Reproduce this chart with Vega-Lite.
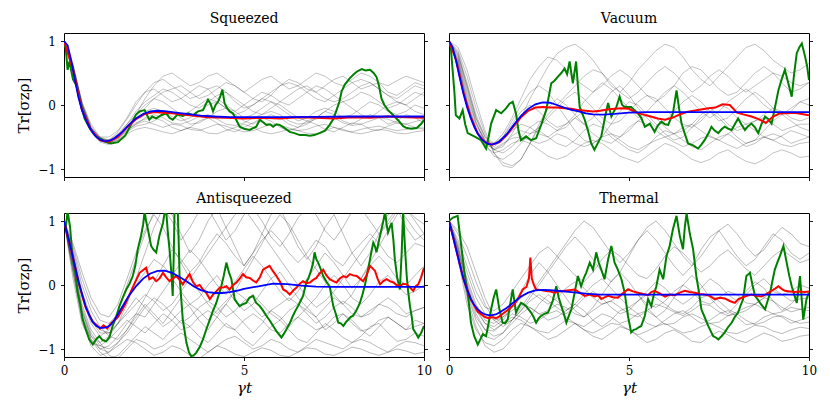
{
"$schema":"https://vega.github.io/schema/vega-lite/v6.json",
"padding":{"left":16,"top":11,"right":4,"bottom":4},
"background":"white",
"datasets":{
"gray":[
{"p":"S","id":1,"t":[0,0.25,0.5,0.75,1,1.25,1.5,1.75,2,2.25,2.5,2.75,3,3.25,3.5,3.75,4,4.25,4.5,4.75,5,5.25,5.5,5.75,6,6.25,6.5,6.75,7,7.25,7.5,7.75,8,8.25,8.5,8.75,9,9.25,9.5,9.75,10],"y":[1,0.6,0,-0.35,-0.52,-0.58,-0.5,-0.35,-0.2,-0.05,0.1,0.2,0.25,0.3,0.2,0.1,0.15,0.25,0.35,0.3,0.2,0.1,0.05,0.15,0.3,0.4,0.35,0.25,0.2,0.3,0.4,0.45,0.35,0.25,0.3,0.35,0.2,0.15,0.25,0.35,0.3]},
{"p":"S","id":2,"t":[0,0.25,0.5,0.75,1,1.25,1.5,1.75,2,2.25,2.5,2.75,3,3.25,3.5,3.75,4,4.25,4.5,4.75,5,5.25,5.5,5.75,6,6.25,6.5,6.75,7,7.25,7.5,7.75,8,8.25,8.5,8.75,9,9.25,9.5,9.75,10],"y":[1,0.55,-0.05,-0.4,-0.55,-0.6,-0.52,-0.4,-0.3,-0.25,-0.3,-0.35,-0.3,-0.32,-0.38,-0.4,-0.35,-0.3,-0.33,-0.38,-0.42,-0.4,-0.35,-0.3,-0.32,-0.36,-0.4,-0.38,-0.33,-0.3,-0.35,-0.4,-0.42,-0.38,-0.35,-0.33,-0.37,-0.4,-0.38,-0.35,-0.36]},
{"p":"S","id":3,"t":[0,0.25,0.5,0.75,1,1.25,1.5,1.75,2,2.25,2.5,2.75,3,3.25,3.5,3.75,4,4.25,4.5,4.75,5,5.25,5.5,5.75,6,6.25,6.5,6.75,7,7.25,7.5,7.75,8,8.25,8.5,8.75,9,9.25,9.5,9.75,10],"y":[1,0.65,0.05,-0.3,-0.5,-0.55,-0.45,-0.3,-0.15,0,0.1,0.05,-0.05,-0.15,-0.1,0,0.1,0.05,-0.05,-0.1,-0.2,-0.15,-0.05,0.05,0,-0.1,-0.2,-0.25,-0.2,-0.1,0,0.05,-0.05,-0.15,-0.2,-0.1,0,0.05,0,-0.1,-0.15]},
{"p":"S","id":4,"t":[0,0.25,0.5,0.75,1,1.25,1.5,1.75,2,2.25,2.5,2.75,3,3.25,3.5,3.75,4,4.25,4.5,4.75,5,5.25,5.5,5.75,6,6.25,6.5,6.75,7,7.25,7.5,7.75,8,8.25,8.5,8.75,9,9.25,9.5,9.75,10],"y":[1,0.5,-0.1,-0.42,-0.58,-0.62,-0.55,-0.42,-0.33,-0.3,-0.25,-0.15,-0.1,-0.2,-0.3,-0.28,-0.2,-0.1,-0.05,-0.15,-0.25,-0.3,-0.22,-0.15,-0.2,-0.3,-0.35,-0.3,-0.2,-0.1,-0.15,-0.25,-0.3,-0.22,-0.15,-0.2,-0.3,-0.25,-0.15,-0.2,-0.28]},
{"p":"S","id":5,"t":[0,0.25,0.5,0.75,1,1.25,1.5,1.75,2,2.25,2.5,2.75,3,3.25,3.5,3.75,4,4.25,4.5,4.75,5,5.25,5.5,5.75,6,6.25,6.5,6.75,7,7.25,7.5,7.75,8,8.25,8.5,8.75,9,9.25,9.5,9.75,10],"y":[1,0.6,0.02,-0.36,-0.5,-0.5,-0.4,-0.2,0.05,0.2,0.25,0.15,0.05,0.1,0.2,0.3,0.25,0.1,0,-0.1,0,0.1,0.2,0.15,0.05,0,0.1,0.2,0.3,0.25,0.15,0.05,0.1,0.2,0.15,0.05,-0.05,0,0.1,0.2,0.15]},
{"p":"S","id":6,"t":[0,0.25,0.5,0.75,1,1.25,1.5,1.75,2,2.25,2.5,2.75,3,3.25,3.5,3.75,4,4.25,4.5,4.75,5,5.25,5.5,5.75,6,6.25,6.5,6.75,7,7.25,7.5,7.75,8,8.25,8.5,8.75,9,9.25,9.5,9.75,10],"y":[1,0.58,-0.02,-0.38,-0.55,-0.58,-0.5,-0.38,-0.28,-0.22,-0.2,-0.25,-0.35,-0.4,-0.35,-0.25,-0.2,-0.28,-0.38,-0.42,-0.35,-0.28,-0.2,-0.25,-0.35,-0.4,-0.35,-0.25,-0.3,-0.38,-0.42,-0.35,-0.28,-0.3,-0.38,-0.4,-0.33,-0.28,-0.3,-0.35,-0.38]},
{"p":"S","id":7,"t":[0,0.25,0.5,0.75,1,1.25,1.5,1.75,2,2.25,2.5,2.75,3,3.25,3.5,3.75,4,4.25,4.5,4.75,5,5.25,5.5,5.75,6,6.25,6.5,6.75,7,7.25,7.5,7.75,8,8.25,8.5,8.75,9,9.25,9.5,9.75,10],"y":[1,0.62,0.03,-0.33,-0.52,-0.55,-0.48,-0.34,-0.15,0.1,0.3,0.45,0.5,0.4,0.3,0.35,0.45,0.5,0.4,0.3,0.2,0.3,0.4,0.45,0.35,0.25,0.3,0.4,0.5,0.45,0.35,0.3,0.4,0.5,0.45,0.35,0.3,0.38,0.45,0.4,0.35]},
{"p":"S","id":8,"t":[0,0.25,0.5,0.75,1,1.25,1.5,1.75,2,2.25,2.5,2.75,3,3.25,3.5,3.75,4,4.25,4.5,4.75,5,5.25,5.5,5.75,6,6.25,6.5,6.75,7,7.25,7.5,7.75,8,8.25,8.5,8.75,9,9.25,9.5,9.75,10],"y":[1,0.55,-0.06,-0.4,-0.56,-0.6,-0.5,-0.35,-0.22,-0.1,-0.05,-0.1,-0.18,-0.25,-0.2,-0.1,0,0.05,-0.05,-0.15,-0.1,0,0.1,0.05,-0.05,-0.15,-0.25,-0.2,-0.1,-0.05,-0.1,-0.2,-0.15,-0.05,0.05,0,-0.1,-0.15,-0.1,0,-0.05]},
{"p":"S","id":9,"t":[0,0.25,0.5,0.75,1,1.25,1.5,1.75,2,2.25,2.5,2.75,3,3.25,3.5,3.75,4,4.25,4.5,4.75,5,5.25,5.5,5.75,6,6.25,6.5,6.75,7,7.25,7.5,7.75,8,8.25,8.5,8.75,9,9.25,9.5,9.75,10],"y":[1,0.6,0,-0.37,-0.54,-0.57,-0.47,-0.3,-0.1,0.05,0.15,0.25,0.2,0.1,0,-0.05,0.05,0.15,0.2,0.1,0,-0.1,-0.15,-0.05,0.05,0.15,0.25,0.3,0.2,0.1,0.05,0.1,0.2,0.3,0.35,0.25,0.15,0.05,0,0.1,0.2]},
{"p":"S","id":10,"t":[0,0.25,0.5,0.75,1,1.25,1.5,1.75,2,2.25,2.5,2.75,3,3.25,3.5,3.75,4,4.25,4.5,4.75,5,5.25,5.5,5.75,6,6.25,6.5,6.75,7,7.25,7.5,7.75,8,8.25,8.5,8.75,9,9.25,9.5,9.75,10],"y":[1,0.57,-0.04,-0.39,-0.56,-0.6,-0.55,-0.45,-0.38,-0.35,-0.38,-0.42,-0.45,-0.4,-0.35,-0.38,-0.44,-0.45,-0.4,-0.35,-0.3,-0.35,-0.42,-0.45,-0.42,-0.38,-0.4,-0.44,-0.45,-0.4,-0.35,-0.38,-0.43,-0.45,-0.42,-0.38,-0.4,-0.44,-0.45,-0.42,-0.4]},
{"p":"S","id":11,"t":[0,0.25,0.5,0.75,1,1.25,1.5,1.75,2,2.25,2.5,2.75,3,3.25,3.5,3.75,4,4.25,4.5,4.75,5,5.25,5.5,5.75,6,6.25,6.5,6.75,7,7.25,7.5,7.75,8,8.25,8.5,8.75,9,9.25,9.5,9.75,10],"y":[1,0.6,0,-0.36,-0.53,-0.55,-0.42,-0.22,0,0.2,0.35,0.4,0.3,0.2,0.1,0.15,0.25,0.3,0.2,0.05,-0.05,0,0.1,0.2,0.3,0.35,0.3,0.2,0.1,0.05,0.15,0.25,0.35,0.4,0.35,0.25,0.15,0.1,0.2,0.3,0.25]},
{"p":"S","id":12,"t":[0,0.25,0.5,0.75,1,1.25,1.5,1.75,2,2.25,2.5,2.75,3,3.25,3.5,3.75,4,4.25,4.5,4.75,5,5.25,5.5,5.75,6,6.25,6.5,6.75,7,7.25,7.5,7.75,8,8.25,8.5,8.75,9,9.25,9.5,9.75,10],"y":[1,0.56,-0.05,-0.4,-0.56,-0.6,-0.53,-0.4,-0.3,-0.2,-0.15,-0.2,-0.28,-0.3,-0.25,-0.18,-0.15,-0.22,-0.3,-0.32,-0.28,-0.2,-0.15,-0.1,-0.15,-0.25,-0.3,-0.28,-0.22,-0.18,-0.2,-0.28,-0.32,-0.3,-0.25,-0.2,-0.22,-0.28,-0.3,-0.26,-0.22]},
{"p":"V","id":1,"t":[0,0.25,0.5,0.75,1,1.25,1.5,1.75,2,2.25,2.5,2.75,3,3.25,3.5,3.75,4,4.25,4.5,4.75,5,5.25,5.5,5.75,6,6.25,6.5,6.75,7,7.25,7.5,7.75,8,8.25,8.5,8.75,9,9.25,9.5,9.75,10],"y":[1,0.8,0.3,-0.2,-0.55,-0.7,-0.65,-0.45,-0.2,0.1,0.35,0.6,0.8,0.9,0.95,0.85,0.7,0.5,0.3,0.2,0.35,0.55,0.7,0.85,0.95,0.9,0.75,0.55,0.4,0.3,0.45,0.6,0.75,0.9,0.95,0.85,0.7,0.6,0.5,0.55,0.65]},
{"p":"V","id":2,"t":[0,0.25,0.5,0.75,1,1.25,1.5,1.75,2,2.25,2.5,2.75,3,3.25,3.5,3.75,4,4.25,4.5,4.75,5,5.25,5.5,5.75,6,6.25,6.5,6.75,7,7.25,7.5,7.75,8,8.25,8.5,8.75,9,9.25,9.5,9.75,10],"y":[1,0.65,0.1,-0.35,-0.6,-0.65,-0.55,-0.4,-0.3,-0.35,-0.45,-0.5,-0.4,-0.3,-0.2,-0.3,-0.45,-0.55,-0.6,-0.5,-0.35,-0.25,-0.3,-0.4,-0.5,-0.45,-0.35,-0.3,-0.4,-0.5,-0.55,-0.45,-0.35,-0.3,-0.4,-0.5,-0.55,-0.48,-0.4,-0.45,-0.5]},
{"p":"V","id":3,"t":[0,0.25,0.5,0.75,1,1.25,1.5,1.75,2,2.25,2.5,2.75,3,3.25,3.5,3.75,4,4.25,4.5,4.75,5,5.25,5.5,5.75,6,6.25,6.5,6.75,7,7.25,7.5,7.75,8,8.25,8.5,8.75,9,9.25,9.5,9.75,10],"y":[1,0.85,0.45,-0.05,-0.45,-0.75,-0.9,-0.95,-0.85,-0.6,-0.3,-0.05,0.1,0,-0.15,-0.3,-0.2,0,0.2,0.3,0.15,-0.05,-0.2,-0.35,-0.25,-0.1,0.05,0.15,0.05,-0.1,-0.25,-0.2,-0.05,0.1,0.2,0.1,-0.05,-0.15,-0.1,0.05,0.1]},
{"p":"V","id":4,"t":[0,0.25,0.5,0.75,1,1.25,1.5,1.75,2,2.25,2.5,2.75,3,3.25,3.5,3.75,4,4.25,4.5,4.75,5,5.25,5.5,5.75,6,6.25,6.5,6.75,7,7.25,7.5,7.75,8,8.25,8.5,8.75,9,9.25,9.5,9.75,10],"y":[1,0.6,0,-0.4,-0.6,-0.62,-0.5,-0.25,0,0.2,0.3,0.2,0,-0.2,-0.4,-0.55,-0.6,-0.5,-0.3,-0.1,0.05,0,-0.15,-0.3,-0.45,-0.55,-0.5,-0.35,-0.2,-0.1,-0.2,-0.35,-0.5,-0.6,-0.55,-0.4,-0.25,-0.15,-0.25,-0.35,-0.4]},
{"p":"V","id":5,"t":[0,0.25,0.5,0.75,1,1.25,1.5,1.75,2,2.25,2.5,2.75,3,3.25,3.5,3.75,4,4.25,4.5,4.75,5,5.25,5.5,5.75,6,6.25,6.5,6.75,7,7.25,7.5,7.75,8,8.25,8.5,8.75,9,9.25,9.5,9.75,10],"y":[1,0.75,0.25,-0.25,-0.6,-0.8,-0.85,-0.75,-0.6,-0.45,-0.4,-0.5,-0.6,-0.65,-0.55,-0.4,-0.3,-0.35,-0.5,-0.6,-0.7,-0.75,-0.65,-0.5,-0.4,-0.45,-0.55,-0.65,-0.7,-0.6,-0.5,-0.45,-0.55,-0.65,-0.6,-0.5,-0.45,-0.5,-0.6,-0.55,-0.5]},
{"p":"V","id":6,"t":[0,0.25,0.5,0.75,1,1.25,1.5,1.75,2,2.25,2.5,2.75,3,3.25,3.5,3.75,4,4.25,4.5,4.75,5,5.25,5.5,5.75,6,6.25,6.5,6.75,7,7.25,7.5,7.75,8,8.25,8.5,8.75,9,9.25,9.5,9.75,10],"y":[1,0.7,0.15,-0.3,-0.55,-0.6,-0.45,-0.2,0.1,0.4,0.6,0.75,0.7,0.55,0.4,0.3,0.2,0.3,0.45,0.55,0.45,0.3,0.15,0.05,0.15,0.3,0.5,0.6,0.55,0.4,0.25,0.15,0.2,0.35,0.5,0.6,0.5,0.35,0.2,0.25,0.35]},
{"p":"V","id":7,"t":[0,0.25,0.5,0.75,1,1.25,1.5,1.75,2,2.25,2.5,2.75,3,3.25,3.5,3.75,4,4.25,4.5,4.75,5,5.25,5.5,5.75,6,6.25,6.5,6.75,7,7.25,7.5,7.75,8,8.25,8.5,8.75,9,9.25,9.5,9.75,10],"y":[1,0.82,0.35,-0.15,-0.5,-0.7,-0.75,-0.65,-0.5,-0.35,-0.25,-0.3,-0.4,-0.35,-0.2,-0.1,-0.15,-0.3,-0.45,-0.5,-0.4,-0.25,-0.15,-0.2,-0.35,-0.45,-0.4,-0.3,-0.15,-0.05,-0.15,-0.3,-0.4,-0.35,-0.25,-0.2,-0.3,-0.4,-0.35,-0.3,-0.3]},
{"p":"V","id":8,"t":[0,0.25,0.5,0.75,1,1.25,1.5,1.75,2,2.25,2.5,2.75,3,3.25,3.5,3.75,4,4.25,4.5,4.75,5,5.25,5.5,5.75,6,6.25,6.5,6.75,7,7.25,7.5,7.75,8,8.25,8.5,8.75,9,9.25,9.5,9.75,10],"y":[1,0.68,0.05,-0.4,-0.65,-0.75,-0.7,-0.6,-0.55,-0.6,-0.7,-0.8,-0.85,-0.8,-0.7,-0.6,-0.55,-0.6,-0.7,-0.8,-0.85,-0.9,-0.8,-0.7,-0.6,-0.65,-0.75,-0.85,-0.9,-0.85,-0.75,-0.7,-0.8,-0.88,-0.92,-0.85,-0.75,-0.7,-0.75,-0.82,-0.8]},
{"p":"V","id":9,"t":[0,0.25,0.5,0.75,1,1.25,1.5,1.75,2,2.25,2.5,2.75,3,3.25,3.5,3.75,4,4.25,4.5,4.75,5,5.25,5.5,5.75,6,6.25,6.5,6.75,7,7.25,7.5,7.75,8,8.25,8.5,8.75,9,9.25,9.5,9.75,10],"y":[1,0.78,0.3,-0.2,-0.5,-0.6,-0.5,-0.3,-0.1,0,-0.1,-0.25,-0.35,-0.3,-0.15,0.05,0.2,0.35,0.25,0.1,-0.05,-0.2,-0.1,0.05,0.2,0.3,0.2,0.05,-0.1,-0.2,-0.1,0.05,0.15,0.25,0.15,0,-0.1,-0.15,-0.05,0.05,0]},
{"p":"V","id":10,"t":[0,0.25,0.5,0.75,1,1.25,1.5,1.75,2,2.25,2.5,2.75,3,3.25,3.5,3.75,4,4.25,4.5,4.75,5,5.25,5.5,5.75,6,6.25,6.5,6.75,7,7.25,7.5,7.75,8,8.25,8.5,8.75,9,9.25,9.5,9.75,10],"y":[1,0.72,0.2,-0.28,-0.58,-0.7,-0.62,-0.48,-0.4,-0.45,-0.35,-0.2,-0.05,0.1,0.2,0.1,-0.05,-0.2,-0.3,-0.25,-0.1,0.05,0.15,0.1,-0.05,-0.2,-0.3,-0.35,-0.25,-0.1,0,-0.05,-0.2,-0.3,-0.25,-0.15,-0.05,-0.1,-0.2,-0.25,-0.2]},
{"p":"V","id":11,"t":[0,0.25,0.5,0.75,1,1.25,1.5,1.75,2,2.25,2.5,2.75,3,3.25,3.5,3.75,4,4.25,4.5,4.75,5,5.25,5.5,5.75,6,6.25,6.5,6.75,7,7.25,7.5,7.75,8,8.25,8.5,8.75,9,9.25,9.5,9.75,10],"y":[1,0.9,0.55,0.05,-0.4,-0.75,-0.95,-0.98,-0.85,-0.6,-0.35,-0.15,0,0.15,0.3,0.45,0.55,0.5,0.35,0.2,0.1,0.2,0.35,0.5,0.6,0.5,0.35,0.2,0.3,0.45,0.55,0.45,0.3,0.2,0.3,0.4,0.5,0.45,0.35,0.3,0.35]},
{"p":"V","id":12,"t":[0,0.25,0.5,0.75,1,1.25,1.5,1.75,2,2.25,2.5,2.75,3,3.25,3.5,3.75,4,4.25,4.5,4.75,5,5.25,5.5,5.75,6,6.25,6.5,6.75,7,7.25,7.5,7.75,8,8.25,8.5,8.75,9,9.25,9.5,9.75,10],"y":[1,0.62,0.05,-0.38,-0.62,-0.68,-0.6,-0.52,-0.5,-0.55,-0.6,-0.55,-0.45,-0.5,-0.6,-0.65,-0.6,-0.5,-0.45,-0.55,-0.65,-0.7,-0.62,-0.55,-0.5,-0.58,-0.65,-0.6,-0.52,-0.48,-0.55,-0.62,-0.68,-0.6,-0.55,-0.5,-0.55,-0.62,-0.65,-0.6,-0.58]},
{"p":"A","id":1,"t":[0,0.25,0.5,0.75,1,1.25,1.5,1.75,2,2.25,2.5,2.75,3,3.25,3.5,3.75,4,4.25,4.5,4.75,5,5.25,5.5,5.75,6,6.25,6.5,6.75,7,7.25,7.5,7.75,8,8.25,8.5,8.75,9,9.25,9.5,9.75,10],"y":[1,0.3,-0.4,-0.8,-1,-1.05,-0.9,-0.7,-0.5,-0.3,-0.45,-0.6,-0.4,-0.2,-0.35,-0.55,-0.7,-0.5,-0.3,-0.45,-0.6,-0.75,-0.6,-0.4,-0.5,-0.65,-0.5,-0.35,-0.5,-0.7,-0.6,-0.45,-0.55,-0.7,-0.8,-0.65,-0.5,-0.6,-0.7,-0.55,-0.6]},
{"p":"A","id":2,"t":[0,0.25,0.5,0.75,1,1.25,1.5,1.75,2,2.25,2.5,2.75,3,3.25,3.5,3.75,4,4.25,4.5,4.75,5,5.25,5.5,5.75,6,6.25,6.5,6.75,7,7.25,7.5,7.75,8,8.25,8.5,8.75,9,9.25,9.5,9.75,10],"y":[1,0.5,-0.1,-0.5,-0.7,-0.75,-0.6,-0.3,0.1,0.5,0.9,1.2,1.1,0.8,0.5,0.7,1,1.2,0.9,0.6,0.3,0.5,0.8,1.1,1.2,0.9,0.6,0.4,0.6,0.9,1.1,0.8,0.5,0.3,0.5,0.8,1,1.2,0.9,0.7,0.8]},
{"p":"A","id":3,"t":[0,0.25,0.5,0.75,1,1.25,1.5,1.75,2,2.25,2.5,2.75,3,3.25,3.5,3.75,4,4.25,4.5,4.75,5,5.25,5.5,5.75,6,6.25,6.5,6.75,7,7.25,7.5,7.75,8,8.25,8.5,8.75,9,9.25,9.5,9.75,10],"y":[1,0.2,-0.5,-0.85,-1,-0.95,-0.8,-0.6,-0.45,-0.5,-0.3,-0.1,0.1,-0.1,-0.3,-0.2,0,0.15,-0.05,-0.25,-0.4,-0.3,-0.1,0.1,0.2,0,-0.2,-0.35,-0.2,0,0.15,0,-0.2,-0.3,-0.15,0.05,0.15,0,-0.15,-0.1,0]},
{"p":"A","id":4,"t":[0,0.25,0.5,0.75,1,1.25,1.5,1.75,2,2.25,2.5,2.75,3,3.25,3.5,3.75,4,4.25,4.5,4.75,5,5.25,5.5,5.75,6,6.25,6.5,6.75,7,7.25,7.5,7.75,8,8.25,8.5,8.75,9,9.25,9.5,9.75,10],"y":[1,0.4,-0.3,-0.7,-0.9,-1.1,-1.15,-1,-0.85,-0.9,-1,-0.95,-0.85,-0.75,-0.85,-0.95,-1.05,-0.95,-0.85,-0.8,-0.9,-1,-0.95,-0.85,-0.9,-1,-1.05,-0.95,-0.85,-0.9,-0.95,-1,-0.9,-0.85,-0.9,-0.98,-1.05,-0.95,-0.88,-0.9,-0.95]},
{"p":"A","id":5,"t":[0,0.25,0.5,0.75,1,1.25,1.5,1.75,2,2.25,2.5,2.75,3,3.25,3.5,3.75,4,4.25,4.5,4.75,5,5.25,5.5,5.75,6,6.25,6.5,6.75,7,7.25,7.5,7.75,8,8.25,8.5,8.75,9,9.25,9.5,9.75,10],"y":[1,0.6,0.1,-0.3,-0.55,-0.6,-0.45,-0.2,0,0.2,0.4,0.3,0.15,0.35,0.55,0.4,0.2,0,-0.15,0.05,0.25,0.45,0.3,0.1,-0.1,-0.25,-0.1,0.1,0.3,0.5,0.35,0.15,-0.05,0.1,0.3,0.45,0.3,0.1,0,0.15,0.3]},
{"p":"A","id":6,"t":[0,0.25,0.5,0.75,1,1.25,1.5,1.75,2,2.25,2.5,2.75,3,3.25,3.5,3.75,4,4.25,4.5,4.75,5,5.25,5.5,5.75,6,6.25,6.5,6.75,7,7.25,7.5,7.75,8,8.25,8.5,8.75,9,9.25,9.5,9.75,10],"y":[1,0.1,-0.6,-0.9,-0.95,-0.85,-0.7,-0.55,-0.65,-0.75,-0.6,-0.45,-0.55,-0.7,-0.65,-0.5,-0.4,-0.5,-0.65,-0.7,-0.55,-0.45,-0.55,-0.7,-0.75,-0.6,-0.5,-0.6,-0.7,-0.65,-0.5,-0.45,-0.6,-0.72,-0.68,-0.55,-0.5,-0.6,-0.7,-0.65,-0.6]},
{"p":"A","id":7,"t":[0,0.25,0.5,0.75,1,1.25,1.5,1.75,2,2.25,2.5,2.75,3,3.25,3.5,3.75,4,4.25,4.5,4.75,5,5.25,5.5,5.75,6,6.25,6.5,6.75,7,7.25,7.5,7.75,8,8.25,8.5,8.75,9,9.25,9.5,9.75,10],"y":[1,0.45,-0.2,-0.6,-0.8,-0.7,-0.4,0,0.4,0.8,1.15,1.2,1,0.7,0.9,1.15,1.2,0.95,0.7,0.85,1.1,1.2,1,0.75,0.6,0.8,1.05,1.2,1.1,0.85,0.7,0.9,1.15,1.2,1,0.8,0.95,1.15,1.2,1.05,0.95]},
{"p":"A","id":8,"t":[0,0.25,0.5,0.75,1,1.25,1.5,1.75,2,2.25,2.5,2.75,3,3.25,3.5,3.75,4,4.25,4.5,4.75,5,5.25,5.5,5.75,6,6.25,6.5,6.75,7,7.25,7.5,7.75,8,8.25,8.5,8.75,9,9.25,9.5,9.75,10],"y":[1,0.35,-0.35,-0.75,-0.95,-1,-0.9,-0.75,-0.55,-0.35,-0.2,-0.3,-0.45,-0.6,-0.5,-0.35,-0.25,-0.35,-0.5,-0.4,-0.25,-0.15,-0.3,-0.45,-0.55,-0.4,-0.3,-0.4,-0.5,-0.35,-0.2,-0.3,-0.45,-0.5,-0.4,-0.3,-0.35,-0.45,-0.5,-0.4,-0.35]},
{"p":"A","id":9,"t":[0,0.25,0.5,0.75,1,1.25,1.5,1.75,2,2.25,2.5,2.75,3,3.25,3.5,3.75,4,4.25,4.5,4.75,5,5.25,5.5,5.75,6,6.25,6.5,6.75,7,7.25,7.5,7.75,8,8.25,8.5,8.75,9,9.25,9.5,9.75,10],"y":[1,0.55,0,-0.4,-0.65,-0.8,-0.85,-0.7,-0.45,-0.2,0.05,0.3,0.55,0.4,0.2,0.35,0.6,0.8,0.65,0.45,0.3,0.5,0.7,0.85,0.7,0.5,0.35,0.5,0.7,0.6,0.4,0.3,0.5,0.65,0.8,0.65,0.45,0.35,0.5,0.65,0.6]},
{"p":"A","id":10,"t":[0,0.25,0.5,0.75,1,1.25,1.5,1.75,2,2.25,2.5,2.75,3,3.25,3.5,3.75,4,4.25,4.5,4.75,5,5.25,5.5,5.75,6,6.25,6.5,6.75,7,7.25,7.5,7.75,8,8.25,8.5,8.75,9,9.25,9.5,9.75,10],"y":[1,0.25,-0.45,-0.85,-1.05,-1.15,-1.1,-0.95,-0.8,-0.65,-0.75,-0.85,-0.7,-0.55,-0.65,-0.8,-0.9,-0.75,-0.6,-0.7,-0.85,-0.95,-0.8,-0.65,-0.55,-0.7,-0.85,-0.9,-0.75,-0.6,-0.7,-0.82,-0.9,-0.8,-0.65,-0.6,-0.75,-0.88,-0.85,-0.75,-0.8]},
{"p":"A","id":11,"t":[0,0.25,0.5,0.75,1,1.25,1.5,1.75,2,2.25,2.5,2.75,3,3.25,3.5,3.75,4,4.25,4.5,4.75,5,5.25,5.5,5.75,6,6.25,6.5,6.75,7,7.25,7.5,7.75,8,8.25,8.5,8.75,9,9.25,9.5,9.75,10],"y":[1,0.5,-0.15,-0.55,-0.75,-0.75,-0.6,-0.45,-0.3,-0.15,-0.25,-0.4,-0.3,-0.1,0.1,0.3,0.5,0.7,0.9,1.1,1.2,1,0.8,0.6,0.4,0.2,0,-0.2,-0.35,-0.25,-0.1,0.1,0.3,0.5,0.7,0.9,1.1,1.2,1.05,0.85,0.7]},
{"p":"A","id":12,"t":[0,0.25,0.5,0.75,1,1.25,1.5,1.75,2,2.25,2.5,2.75,3,3.25,3.5,3.75,4,4.25,4.5,4.75,5,5.25,5.5,5.75,6,6.25,6.5,6.75,7,7.25,7.5,7.75,8,8.25,8.5,8.75,9,9.25,9.5,9.75,10],"y":[1,0.3,-0.4,-0.8,-0.9,-0.8,-0.6,-0.4,-0.2,-0.35,-0.5,-0.65,-0.55,-0.4,-0.3,-0.4,-0.55,-0.4,-0.25,-0.1,-0.2,-0.35,-0.5,-0.4,-0.3,-0.2,-0.3,-0.45,-0.6,-0.5,-0.35,-0.25,-0.35,-0.5,-0.45,-0.3,-0.2,-0.3,-0.45,-0.4,-0.35]},
{"p":"A","id":13,"t":[0,0.25,0.5,0.75,1,1.25,1.5,1.75,2,2.25,2.5,2.75,3,3.25,3.5,3.75,4,4.25,4.5,4.75,5,5.25,5.5,5.75,6,6.25,6.5,6.75,7,7.25,7.5,7.75,8,8.25,8.5,8.75,9,9.25,9.5,9.75,10],"y":[1,0.65,0.2,-0.2,-0.45,-0.5,-0.3,0.1,0.5,0.85,1.1,0.9,0.6,0.35,0.1,-0.1,-0.3,-0.45,-0.3,-0.1,0.15,0.4,0.65,0.9,1.1,0.95,0.7,0.45,0.25,0.05,-0.15,-0.3,-0.15,0.1,0.35,0.6,0.85,1.1,1.2,1,0.8]},
{"p":"A","id":14,"t":[0,0.25,0.5,0.75,1,1.25,1.5,1.75,2,2.25,2.5,2.75,3,3.25,3.5,3.75,4,4.25,4.5,4.75,5,5.25,5.5,5.75,6,6.25,6.5,6.75,7,7.25,7.5,7.75,8,8.25,8.5,8.75,9,9.25,9.5,9.75,10],"y":[1,0.2,-0.55,-0.95,-1.1,-1.05,-0.95,-0.85,-0.9,-1,-1.1,-1.05,-0.95,-1,-1.1,-1.15,-1.05,-0.95,-1,-1.08,-1.12,-1.05,-0.98,-1.02,-1.1,-1.12,-1.05,-0.98,-1,-1.08,-1.1,-1.04,-0.97,-1,-1.06,-1.1,-1.05,-1,-1.03,-1.08,-1.05]},
{"p":"T","id":1,"t":[0,0.25,0.5,0.75,1,1.25,1.5,1.75,2,2.25,2.5,2.75,3,3.25,3.5,3.75,4,4.25,4.5,4.75,5,5.25,5.5,5.75,6,6.25,6.5,6.75,7,7.25,7.5,7.75,8,8.25,8.5,8.75,9,9.25,9.5,9.75,10],"y":[1,0.55,0,-0.45,-0.7,-0.8,-0.75,-0.6,-0.45,-0.35,-0.45,-0.55,-0.5,-0.4,-0.3,-0.4,-0.55,-0.65,-0.55,-0.4,-0.35,-0.45,-0.6,-0.65,-0.55,-0.45,-0.4,-0.5,-0.6,-0.55,-0.45,-0.4,-0.5,-0.62,-0.6,-0.5,-0.45,-0.5,-0.6,-0.55,-0.5]},
{"p":"T","id":2,"t":[0,0.25,0.5,0.75,1,1.25,1.5,1.75,2,2.25,2.5,2.75,3,3.25,3.5,3.75,4,4.25,4.5,4.75,5,5.25,5.5,5.75,6,6.25,6.5,6.75,7,7.25,7.5,7.75,8,8.25,8.5,8.75,9,9.25,9.5,9.75,10],"y":[1,0.7,0.3,-0.1,-0.35,-0.4,-0.3,-0.1,0.1,0.3,0.5,0.6,0.45,0.3,0.15,0.05,0.2,0.4,0.55,0.45,0.3,0.15,0.1,0.25,0.45,0.6,0.5,0.35,0.2,0.3,0.45,0.55,0.4,0.25,0.15,0.3,0.45,0.55,0.45,0.35,0.4]},
{"p":"T","id":3,"t":[0,0.25,0.5,0.75,1,1.25,1.5,1.75,2,2.25,2.5,2.75,3,3.25,3.5,3.75,4,4.25,4.5,4.75,5,5.25,5.5,5.75,6,6.25,6.5,6.75,7,7.25,7.5,7.75,8,8.25,8.5,8.75,9,9.25,9.5,9.75,10],"y":[1,0.4,-0.3,-0.7,-0.9,-0.95,-0.85,-0.7,-0.6,-0.65,-0.75,-0.85,-0.8,-0.7,-0.6,-0.7,-0.8,-0.85,-0.75,-0.65,-0.7,-0.8,-0.9,-0.85,-0.75,-0.7,-0.78,-0.88,-0.9,-0.8,-0.72,-0.78,-0.86,-0.9,-0.82,-0.75,-0.8,-0.88,-0.85,-0.8,-0.78]},
{"p":"T","id":4,"t":[0,0.25,0.5,0.75,1,1.25,1.5,1.75,2,2.25,2.5,2.75,3,3.25,3.5,3.75,4,4.25,4.5,4.75,5,5.25,5.5,5.75,6,6.25,6.5,6.75,7,7.25,7.5,7.75,8,8.25,8.5,8.75,9,9.25,9.5,9.75,10],"y":[1,0.6,0.1,-0.3,-0.55,-0.6,-0.5,-0.35,-0.2,-0.1,-0.2,-0.3,-0.2,-0.05,0.05,-0.05,-0.2,-0.3,-0.25,-0.15,-0.05,-0.15,-0.3,-0.35,-0.25,-0.1,0,-0.1,-0.25,-0.3,-0.2,-0.1,-0.15,-0.28,-0.3,-0.2,-0.1,-0.15,-0.25,-0.22,-0.2]},
{"p":"T","id":5,"t":[0,0.25,0.5,0.75,1,1.25,1.5,1.75,2,2.25,2.5,2.75,3,3.25,3.5,3.75,4,4.25,4.5,4.75,5,5.25,5.5,5.75,6,6.25,6.5,6.75,7,7.25,7.5,7.75,8,8.25,8.5,8.75,9,9.25,9.5,9.75,10],"y":[1,0.85,0.6,0.2,-0.2,-0.5,-0.6,-0.55,-0.4,-0.2,0,0.2,0.4,0.6,0.75,0.6,0.4,0.2,0.05,0.2,0.45,0.7,0.85,0.7,0.5,0.3,0.15,0.3,0.55,0.75,0.85,0.65,0.45,0.3,0.4,0.6,0.8,0.7,0.5,0.4,0.5]},
{"p":"T","id":6,"t":[0,0.25,0.5,0.75,1,1.25,1.5,1.75,2,2.25,2.5,2.75,3,3.25,3.5,3.75,4,4.25,4.5,4.75,5,5.25,5.5,5.75,6,6.25,6.5,6.75,7,7.25,7.5,7.75,8,8.25,8.5,8.75,9,9.25,9.5,9.75,10],"y":[1,0.5,-0.1,-0.5,-0.7,-0.72,-0.6,-0.45,-0.5,-0.6,-0.55,-0.45,-0.4,-0.5,-0.6,-0.65,-0.55,-0.45,-0.5,-0.6,-0.55,-0.45,-0.4,-0.5,-0.62,-0.6,-0.5,-0.45,-0.52,-0.6,-0.58,-0.48,-0.45,-0.55,-0.62,-0.58,-0.5,-0.48,-0.55,-0.6,-0.58]},
{"p":"T","id":7,"t":[0,0.25,0.5,0.75,1,1.25,1.5,1.75,2,2.25,2.5,2.75,3,3.25,3.5,3.75,4,4.25,4.5,4.75,5,5.25,5.5,5.75,6,6.25,6.5,6.75,7,7.25,7.5,7.75,8,8.25,8.5,8.75,9,9.25,9.5,9.75,10],"y":[1,0.45,-0.2,-0.65,-0.95,-1.05,-1,-0.85,-0.7,-0.5,-0.3,-0.15,-0.25,-0.4,-0.3,-0.15,0,0.1,-0.05,-0.2,-0.35,-0.25,-0.1,0.05,-0.05,-0.2,-0.3,-0.2,-0.05,0.1,0,-0.15,-0.25,-0.15,0,0.1,-0.05,-0.15,-0.1,0,-0.05]},
{"p":"T","id":8,"t":[0,0.25,0.5,0.75,1,1.25,1.5,1.75,2,2.25,2.5,2.75,3,3.25,3.5,3.75,4,4.25,4.5,4.75,5,5.25,5.5,5.75,6,6.25,6.5,6.75,7,7.25,7.5,7.75,8,8.25,8.5,8.75,9,9.25,9.5,9.75,10],"y":[1,0.65,0.2,-0.2,-0.45,-0.55,-0.5,-0.4,-0.3,-0.35,-0.45,-0.4,-0.3,-0.35,-0.45,-0.5,-0.4,-0.3,-0.25,-0.35,-0.45,-0.5,-0.4,-0.3,-0.35,-0.42,-0.48,-0.4,-0.3,-0.32,-0.42,-0.48,-0.42,-0.35,-0.3,-0.38,-0.45,-0.42,-0.35,-0.38,-0.4]},
{"p":"T","id":9,"t":[0,0.25,0.5,0.75,1,1.25,1.5,1.75,2,2.25,2.5,2.75,3,3.25,3.5,3.75,4,4.25,4.5,4.75,5,5.25,5.5,5.75,6,6.25,6.5,6.75,7,7.25,7.5,7.75,8,8.25,8.5,8.75,9,9.25,9.5,9.75,10],"y":[1,0.55,0,-0.4,-0.6,-0.65,-0.55,-0.35,-0.1,0.15,0.35,0.2,0,-0.2,-0.4,-0.5,-0.35,-0.15,0.05,0.2,0.05,-0.15,-0.35,-0.5,-0.4,-0.2,0,0.15,0,-0.2,-0.35,-0.45,-0.3,-0.1,0.05,-0.05,-0.25,-0.4,-0.3,-0.15,-0.1]},
{"p":"T","id":10,"t":[0,0.25,0.5,0.75,1,1.25,1.5,1.75,2,2.25,2.5,2.75,3,3.25,3.5,3.75,4,4.25,4.5,4.75,5,5.25,5.5,5.75,6,6.25,6.5,6.75,7,7.25,7.5,7.75,8,8.25,8.5,8.75,9,9.25,9.5,9.75,10],"y":[1,0.6,0.05,-0.35,-0.6,-0.7,-0.6,-0.5,-0.55,-0.65,-0.72,-0.75,-0.65,-0.55,-0.6,-0.7,-0.75,-0.68,-0.6,-0.62,-0.7,-0.78,-0.72,-0.65,-0.6,-0.68,-0.75,-0.72,-0.65,-0.6,-0.66,-0.74,-0.76,-0.7,-0.63,-0.65,-0.72,-0.76,-0.7,-0.66,-0.68]},
{"p":"T","id":11,"t":[0,0.25,0.5,0.75,1,1.25,1.5,1.75,2,2.25,2.5,2.75,3,3.25,3.5,3.75,4,4.25,4.5,4.75,5,5.25,5.5,5.75,6,6.25,6.5,6.75,7,7.25,7.5,7.75,8,8.25,8.5,8.75,9,9.25,9.5,9.75,10],"y":[1,0.8,0.45,0.05,-0.3,-0.55,-0.65,-0.55,-0.35,-0.15,0.05,0.25,0.45,0.65,0.85,1,0.9,0.7,0.5,0.35,0.5,0.7,0.9,1,0.85,0.65,0.45,0.3,0.45,0.65,0.85,0.95,0.8,0.6,0.45,0.55,0.75,0.9,0.8,0.65,0.6]},
{"p":"T","id":12,"t":[0,0.25,0.5,0.75,1,1.25,1.5,1.75,2,2.25,2.5,2.75,3,3.25,3.5,3.75,4,4.25,4.5,4.75,5,5.25,5.5,5.75,6,6.25,6.5,6.75,7,7.25,7.5,7.75,8,8.25,8.5,8.75,9,9.25,9.5,9.75,10],"y":[1,0.5,-0.15,-0.55,-0.8,-0.85,-0.75,-0.55,-0.4,-0.25,-0.15,-0.25,-0.35,-0.45,-0.35,-0.2,-0.1,-0.2,-0.35,-0.45,-0.4,-0.25,-0.15,-0.2,-0.3,-0.4,-0.45,-0.35,-0.2,-0.15,-0.25,-0.38,-0.45,-0.4,-0.3,-0.2,-0.25,-0.35,-0.42,-0.38,-0.35]}
],
"lines":[
{"p":"S","k":"g","t":[0,0.05,0.1,0.15,0.25,0.35,0.45,0.57,0.7,0.85,1,1.15,1.31,1.5,1.7,1.85,2,2.1,2.24,2.37,2.45,2.56,2.7,2.84,2.93,3.02,3.15,3.3,3.45,3.58,3.72,3.86,4,4.07,4.14,4.21,4.28,4.35,4.4,4.46,4.53,4.6,4.69,4.8,4.88,5,5.16,5.25,5.34,5.44,5.53,5.62,5.72,5.81,5.9,5.99,6.1,6.27,6.4,6.55,6.7,6.83,6.95,7.1,7.25,7.38,7.48,7.57,7.65,7.71,7.8,7.94,8.05,8.13,8.27,8.38,8.5,8.6,8.68,8.75,8.82,8.9,9,9.15,9.3,9.42,9.52,9.65,9.8,9.93,10],"y":[1,0.88,0.55,0.68,0.4,0.3,0.05,-0.21,-0.35,-0.47,-0.52,-0.57,-0.6,-0.58,-0.48,-0.32,-0.15,-0.1,-0.08,-0.23,-0.18,-0.21,-0.16,-0.13,-0.2,-0.23,-0.15,-0.17,-0.13,-0.16,-0.1,-0.08,0.08,0.02,-0.1,0,0.05,0.15,0.24,0.03,-0.05,-0.1,-0.13,-0.25,-0.34,-0.37,-0.39,-0.36,-0.34,-0.23,-0.27,-0.31,-0.3,-0.34,-0.3,-0.31,-0.35,-0.42,-0.44,-0.47,-0.47,-0.48,-0.47,-0.44,-0.4,-0.31,-0.22,-0.08,0.05,0.21,0.32,0.42,0.48,0.52,0.56,0.54,0.55,0.5,0.44,0.3,0.1,0,-0.08,-0.16,-0.25,-0.33,-0.36,-0.37,-0.36,-0.29,-0.23]},
{"p":"S","k":"r","t":[0,0.25,0.5,0.75,1,1.25,1.5,1.75,2,2.25,2.5,2.75,3,3.5,4,4.5,5,5.5,6,6.5,7,7.5,8,8.5,9,9.5,10],"y":[1,0.55,-0.08,-0.39,-0.55,-0.575,-0.5,-0.35,-0.22,-0.14,-0.11,-0.12,-0.13,-0.16,-0.19,-0.2,-0.21,-0.2,-0.21,-0.19,-0.2,-0.21,-0.19,-0.2,-0.18,-0.19,-0.2]},
{"p":"S","k":"b","t":[0,0.1,0.2,0.3,0.4,0.5,0.6,0.7,0.8,0.9,1,1.1,1.2,1.3,1.4,1.6,1.8,2,2.2,2.4,2.6,2.8,3,3.4,3.8,4.2,4.6,5,6,7,8,9,10],"y":[1,0.93,0.7,0.4,0.12,-0.08,-0.22,-0.34,-0.43,-0.5,-0.54,-0.56,-0.565,-0.55,-0.52,-0.43,-0.31,-0.21,-0.14,-0.1,-0.09,-0.095,-0.11,-0.14,-0.165,-0.18,-0.19,-0.19,-0.19,-0.185,-0.18,-0.18,-0.18]},
{"p":"V","k":"g","t":[0,0.05,0.1,0.15,0.19,0.29,0.38,0.45,0.52,0.7,0.89,1.03,1.1,1.17,1.31,1.45,1.59,1.68,1.77,1.86,1.93,2,2.14,2.28,2.42,2.56,2.7,2.84,2.93,3.02,3.12,3.21,3.28,3.35,3.44,3.53,3.58,3.63,3.77,3.86,3.95,4.04,4.13,4.23,4.33,4.42,4.51,4.58,4.65,4.74,4.81,4.88,5.06,5.15,5.25,5.34,5.44,5.58,5.71,5.8,5.9,6,6.09,6.22,6.32,6.39,6.46,6.55,6.64,6.78,6.92,7.01,7.1,7.2,7.29,7.38,7.48,7.57,7.66,7.75,7.85,7.94,8.03,8.12,8.22,8.31,8.4,8.5,8.59,8.68,8.78,8.87,8.96,9.05,9.15,9.24,9.33,9.42,9.52,9.59,9.66,9.73,9.8,9.89,9.95,10],"y":[1,0.9,0.55,0.2,-0.16,-0.21,-0.08,-0.3,-0.44,-0.49,-0.55,-0.68,-0.5,-0.29,-0.08,-0.13,-0.05,0.02,0.05,-0.13,-0.4,-0.55,-0.49,-0.55,-0.52,-0.31,-0.08,0.34,0.38,0.44,0.5,0.57,0.48,0.68,0.34,0.68,0.3,-0.03,-0.23,-0.4,-0.6,-0.7,-0.6,-0.49,-0.2,0.03,-0.18,-0.1,-0.03,0.13,0,-0.03,-0.03,-0.08,-0.13,-0.2,-0.34,-0.29,-0.42,-0.32,-0.26,-0.3,-0.31,-0.13,0.23,-0.05,-0.29,-0.45,-0.6,-0.63,-0.68,-0.62,-0.55,-0.45,-0.34,-0.4,-0.44,-0.38,-0.34,-0.37,-0.39,-0.3,-0.21,-0.3,-0.39,-0.33,-0.29,-0.35,-0.44,-0.3,-0.18,-0.22,-0.29,-0.05,0.23,0.4,0.55,0.35,0.13,0.5,0.81,0.9,0.96,0.76,0.6,0.39]},
{"p":"V","k":"r","t":[0,0.2,0.4,0.6,0.8,1,1.2,1.4,1.6,1.8,2,2.2,2.4,2.6,2.8,3,3.2,3.4,3.6,3.8,4,4.2,4.4,4.6,4.8,5,5.2,5.4,5.6,5.8,6,6.2,6.4,6.6,6.8,7,7.2,7.4,7.6,7.8,8,8.2,8.4,8.6,8.8,9,9.2,9.4,9.6,9.8,10],"y":[1,0.7,0.2,-0.18,-0.45,-0.58,-0.62,-0.58,-0.47,-0.33,-0.19,-0.09,-0.04,-0.03,-0.04,-0.04,-0.05,-0.06,-0.08,-0.09,-0.1,-0.09,-0.07,-0.06,-0.05,-0.06,-0.12,-0.15,-0.18,-0.21,-0.23,-0.2,-0.15,-0.11,-0.09,-0.07,-0.05,-0.04,0.01,0,-0.12,-0.15,-0.18,-0.22,-0.28,-0.18,-0.13,-0.13,-0.12,-0.14,-0.16]},
{"p":"V","k":"b","t":[0,0.1,0.2,0.3,0.4,0.5,0.6,0.7,0.8,0.9,1,1.1,1.2,1.3,1.4,1.6,1.8,2,2.2,2.4,2.6,2.8,3,3.2,3.4,3.6,3.8,4,4.3,4.6,5,5.5,6,7,8,9,10],"y":[1,0.9,0.68,0.42,0.18,-0.03,-0.2,-0.34,-0.45,-0.53,-0.58,-0.61,-0.615,-0.6,-0.57,-0.46,-0.31,-0.17,-0.06,0.01,0.04,0.035,0,-0.04,-0.075,-0.1,-0.13,-0.145,-0.15,-0.14,-0.12,-0.11,-0.11,-0.11,-0.11,-0.11,-0.11]},
{"p":"A","k":"g","t":[0,0.05,0.1,0.17,0.24,0.31,0.38,0.45,0.52,0.61,0.7,0.8,0.89,0.98,1.07,1.17,1.26,1.35,1.45,1.54,1.63,1.73,1.82,1.91,1.98,2.05,2.14,2.2,2.24,2.28,2.33,2.42,2.49,2.56,2.65,2.75,2.8,2.84,2.88,2.93,2.98,3.02,3.05,3.07,3.16,3.19,3.21,3.3,3.4,3.47,3.53,3.6,3.67,3.77,3.86,3.95,4.05,4.14,4.23,4.3,4.37,4.44,4.51,4.58,4.65,4.74,4.81,4.88,4.97,5.06,5.15,5.25,5.34,5.44,5.53,5.62,5.71,5.81,5.9,6.04,6.11,6.18,6.27,6.36,6.43,6.5,6.57,6.64,6.73,6.8,6.87,6.92,6.96,7.01,7.06,7.13,7.2,7.29,7.38,7.48,7.55,7.62,7.69,7.76,7.83,7.9,7.96,8.03,8.12,8.22,8.29,8.36,8.43,8.5,8.55,8.59,8.64,8.68,8.75,8.82,8.87,8.92,8.96,9,9.05,9.1,9.15,9.19,9.26,9.33,9.38,9.42,9.47,9.52,9.56,9.61,9.66,9.7,9.77,9.84,9.92,10],"y":[1,0.9,1.15,0.9,0.4,0.2,-0.12,-0.3,-0.54,-0.7,-0.85,-0.93,-0.85,-0.8,-0.86,-0.88,-0.82,-0.64,-0.5,-0.33,-0.2,-0.07,0.02,0.14,0.3,0.56,0.77,0.95,1.15,1,0.87,0.61,0.55,0.51,0.77,0.97,1.15,1.15,0.85,0.56,0.2,-0.17,0.5,1.15,1.15,0.6,0.14,-0.54,-0.9,-1.05,-1.11,-1.1,-1.06,-0.97,-0.85,-0.7,-0.54,-0.4,-0.28,-0.15,-0.02,0.15,0.35,0.2,0.09,-0.22,-0.28,-0.33,-0.3,-0.28,-0.2,-0.17,-0.28,-0.33,-0.4,-0.48,-0.55,-0.64,-0.72,-0.82,-0.76,-0.69,-0.6,-0.48,-0.4,-0.33,-0.25,-0.17,0.04,0.12,0.24,0.35,0.51,0.4,0.35,0.25,0.14,0.05,-0.02,-0.33,-0.45,-0.59,-0.6,-0.64,-0.58,-0.54,-0.5,-0.48,-0.4,-0.28,-0.15,0,0.2,0.4,0.55,0.66,0.6,0.51,0.7,0.87,1,1.15,0.95,0.82,0.9,0.97,0.7,0.4,0.1,-0.07,0.5,1.15,0.6,0.14,-0.1,-0.33,-0.5,-0.69,-0.75,-0.82,-0.75,-0.64]},
{"p":"A","k":"r","t":[0,0.2,0.4,0.6,0.8,0.9,1,1.1,1.2,1.3,1.5,1.7,1.9,2.1,2.28,2.37,2.47,2.56,2.65,2.75,2.84,2.93,3.02,3.12,3.21,3.3,3.4,3.49,3.58,3.67,3.77,3.86,3.95,4.05,4.14,4.23,4.33,4.42,4.51,4.6,4.7,4.79,4.88,4.97,5.06,5.16,5.25,5.34,5.44,5.53,5.62,5.71,5.8,5.9,6,6.09,6.18,6.27,6.36,6.46,6.55,6.64,6.73,6.83,6.92,7.01,7.1,7.2,7.29,7.38,7.48,7.57,7.66,7.76,7.85,7.94,8.03,8.13,8.22,8.31,8.4,8.5,8.57,8.64,8.71,8.78,8.87,8.96,9.05,9.15,9.24,9.33,9.42,9.52,9.61,9.7,9.77,9.84,9.92,10],"y":[1,0.55,0.05,-0.35,-0.58,-0.62,-0.68,-0.63,-0.68,-0.6,-0.5,-0.3,-0.05,0.19,0.27,0.09,0.12,0.06,0.1,0.19,0.12,0.06,0.1,0.14,0.08,0.01,0.1,0.17,0.05,-0.02,0,-0.07,-0.12,-0.22,-0.15,-0.1,-0.04,-0.04,-0.02,-0.07,0,0.04,0.1,0.17,0.12,0.11,0.07,0.04,0.12,0.24,0.27,0.3,0.22,0.14,0.05,-0.07,-0.1,-0.15,-0.09,-0.04,0.02,0.06,0.03,0.04,0.08,0.11,0.18,0.24,0.15,0.09,0.06,0.04,0.1,0.14,0.12,0.17,0.15,0.14,0.1,0.06,0.15,0.3,0.26,0.22,0.1,0.01,0.06,0.09,0.06,0.04,0,-0.02,0.02,0.01,-0.04,-0.09,-0.02,0.01,0.12,0.27]},
{"p":"A","k":"b","t":[0,0.1,0.2,0.3,0.4,0.5,0.6,0.7,0.8,0.9,1,1.1,1.2,1.3,1.4,1.6,1.8,2,2.2,2.4,2.6,2.8,3,3.2,3.4,3.6,3.8,4,4.2,4.4,4.6,4.8,5,5.4,5.8,6.2,6.6,7,7.5,8,9,10],"y":[1,0.78,0.55,0.3,0.06,-0.14,-0.33,-0.47,-0.58,-0.64,-0.67,-0.67,-0.655,-0.62,-0.55,-0.36,-0.17,-0.02,0.1,0.18,0.22,0.225,0.19,0.13,0.06,-0.02,-0.08,-0.11,-0.125,-0.125,-0.11,-0.09,-0.06,-0.02,0.02,0.015,-0.01,-0.025,-0.03,-0.03,-0.03,-0.03]},
{"p":"T","k":"g","t":[0,0.1,0.24,0.33,0.43,0.52,0.61,0.7,0.8,0.87,0.94,1.03,1.1,1.17,1.24,1.31,1.4,1.49,1.56,1.63,1.7,1.77,1.86,1.93,2,2.07,2.14,2.21,2.28,2.35,2.42,2.49,2.56,2.65,2.75,2.81,2.88,2.98,3.05,3.12,3.19,3.26,3.33,3.4,3.49,3.58,3.67,3.74,3.81,3.91,4,4.09,4.16,4.23,4.32,4.42,4.51,4.6,4.69,4.79,4.88,4.97,5.06,5.13,5.2,5.27,5.34,5.44,5.53,5.62,5.69,5.76,5.85,5.95,6.04,6.13,6.22,6.32,6.41,6.5,6.55,6.6,6.69,6.78,6.87,6.94,7.01,7.1,7.2,7.27,7.34,7.41,7.48,7.57,7.66,7.75,7.85,7.94,8.03,8.1,8.17,8.26,8.36,8.43,8.5,8.57,8.64,8.71,8.78,8.85,8.92,8.98,9.05,9.12,9.19,9.29,9.38,9.45,9.52,9.59,9.66,9.75,9.84,9.93,10],"y":[1,1.05,1.08,0.66,0.19,-0.12,-0.59,-0.8,-0.93,-0.85,-0.77,-0.8,-0.6,-0.38,-0.2,-0.07,-0.38,-0.59,-0.6,-0.54,-0.3,-0.07,-0.43,-0.35,-0.28,-0.3,-0.33,-0.38,-0.43,-0.5,-0.59,-0.52,-0.48,-0.45,-0.43,-0.35,-0.25,-0.02,-0.2,-0.33,-0.45,-0.59,-0.48,-0.38,-0.12,0.14,-0.02,0.1,0.19,0.35,0.24,0.51,0.35,0.24,0.09,0.4,0.61,0.35,0.24,0.09,-0.12,-0.48,-0.74,-0.7,-0.69,-0.66,-0.64,-0.48,-0.22,-0.33,-0.15,-0.02,0.24,0.09,0.45,0.61,0.87,1.08,0.77,0.56,0.9,1.12,0.8,0.56,0.14,-0.1,-0.38,-0.5,-0.64,-0.72,-0.8,-0.82,-0.85,-0.8,-0.74,-0.66,-0.59,-0.5,-0.43,-0.32,-0.22,0.14,0.19,0,-0.17,-0.22,-0.28,-0.33,-0.38,-0.25,-0.12,0.05,0.24,0.35,0.45,0.61,0.35,0.15,-0.02,-0.15,-0.28,0.14,-0.54,-0.22,-0.12]},
{"p":"T","k":"r","t":[0,0.2,0.4,0.6,0.8,1,1.1,1.2,1.3,1.4,1.54,1.7,1.82,1.95,2.05,2.15,2.22,2.26,2.3,2.36,2.42,2.55,2.65,2.8,2.93,3.07,3.21,3.35,3.49,3.63,3.77,3.91,4.05,4.14,4.23,4.33,4.42,4.55,4.69,4.83,4.97,5.11,5.25,5.39,5.53,5.62,5.71,5.85,6,6.13,6.27,6.41,6.55,6.69,6.83,6.97,7.1,7.24,7.38,7.52,7.66,7.8,7.94,8.04,8.13,8.27,8.4,8.54,8.68,8.82,8.96,9.05,9.15,9.24,9.33,9.47,9.61,9.75,9.88,10],"y":[1,0.55,0.1,-0.22,-0.42,-0.5,-0.52,-0.5,-0.52,-0.49,-0.43,-0.36,-0.3,-0.18,-0.07,-0.03,0.1,0.43,0.1,0,-0.07,-0.08,-0.09,-0.1,-0.12,-0.1,-0.09,-0.08,-0.07,-0.12,-0.17,-0.15,-0.18,-0.16,-0.22,-0.19,-0.17,-0.19,-0.2,-0.13,-0.07,-0.1,-0.12,-0.14,-0.16,-0.11,-0.09,-0.13,-0.18,-0.15,-0.16,-0.12,-0.09,-0.11,-0.12,-0.14,-0.15,-0.17,-0.22,-0.2,-0.21,-0.25,-0.28,-0.22,-0.2,-0.17,-0.15,-0.17,-0.18,-0.14,-0.09,-0.06,-0.02,-0.06,-0.09,-0.1,-0.11,-0.1,-0.11,-0.1]},
{"p":"T","k":"b","t":[0,0.1,0.2,0.3,0.4,0.5,0.6,0.7,0.8,0.9,1,1.1,1.2,1.3,1.4,1.6,1.8,2,2.2,2.4,2.6,2.8,3,3.4,3.8,4.2,5,6,7,8,9,10],"y":[1,0.78,0.55,0.32,0.1,-0.07,-0.21,-0.31,-0.38,-0.43,-0.46,-0.47,-0.47,-0.46,-0.43,-0.36,-0.27,-0.18,-0.12,-0.085,-0.075,-0.08,-0.09,-0.11,-0.135,-0.15,-0.15,-0.15,-0.15,-0.15,-0.15,-0.15]}
]
},
"columns":2,
"spacing":{"row":36,"column":25},
"bounds":"flush",
"concat":[
{"width":360,"height":144,"title":{"text":"Squeezed"},
"layer":[
{"data":{"name":"gray"},"transform":[{"filter":"datum.p==='S'"},{"flatten":["t","y"]}],"mark":{"type":"line","clip":true,"color":"#000000","strokeWidth":0.8,"opacity":0.3},
"encoding":{"x":{"field":"t","type":"quantitative","scale":{"domain":[0,10],"nice":false,"zero":false},"axis":{"values":[0,5,10],"labels":false,"title":null}},
"y":{"field":"y","type":"quantitative","scale":{"domain":[-1.125,1.125],"nice":false,"zero":false},"axis":{"orient":"left","values":[-1,0,1],"title":"Tr[σzρ]"}},"detail":{"field":"id"}}},
{"data":{"name":"lines"},"transform":[{"filter":"datum.p==='S' && datum.k==='g'"},{"flatten":["t","y"]}],"mark":{"type":"line","clip":true,"color":"#008000","strokeWidth":2},
"encoding":{"x":{"field":"t","type":"quantitative","scale":{"domain":[0,10],"nice":false,"zero":false}},"y":{"field":"y","type":"quantitative","scale":{"domain":[-1.125,1.125],"nice":false,"zero":false},"axis":null}}},
{"data":{"name":"lines"},"transform":[{"filter":"datum.p==='S' && datum.k==='r'"},{"flatten":["t","y"]}],"mark":{"type":"line","clip":true,"color":"#ff0000","strokeWidth":2},
"encoding":{"x":{"field":"t","type":"quantitative","scale":{"domain":[0,10],"nice":false,"zero":false}},"y":{"field":"y","type":"quantitative","scale":{"domain":[-1.125,1.125],"nice":false,"zero":false},"axis":null}}},
{"data":{"name":"lines"},"transform":[{"filter":"datum.p==='S' && datum.k==='b'"},{"flatten":["t","y"]}],"mark":{"type":"line","clip":true,"color":"#0000ff","strokeWidth":1.8},
"encoding":{"x":{"field":"t","type":"quantitative","scale":{"domain":[0,10],"nice":false,"zero":false}},"y":{"field":"y","type":"quantitative","scale":{"domain":[-1.125,1.125],"nice":false,"zero":false},"axis":{"orient":"right","values":[-1,0,1],"labels":false,"title":null}}}}
],
"resolve":{"axis":{"y":"independent"}}},
{"width":360,"height":144,"title":{"text":"Vacuum"},
"layer":[
{"data":{"name":"gray"},"transform":[{"filter":"datum.p==='V'"},{"flatten":["t","y"]}],"mark":{"type":"line","clip":true,"color":"#000000","strokeWidth":0.8,"opacity":0.3},
"encoding":{"x":{"field":"t","type":"quantitative","scale":{"domain":[0,10],"nice":false,"zero":false},"axis":{"values":[0,5,10],"labels":false,"title":null}},
"y":{"field":"y","type":"quantitative","scale":{"domain":[-1.125,1.125],"nice":false,"zero":false},"axis":{"orient":"left","values":[-1,0,1],"labels":false,"title":null}},"detail":{"field":"id"}}},
{"data":{"name":"lines"},"transform":[{"filter":"datum.p==='V' && datum.k==='g'"},{"flatten":["t","y"]}],"mark":{"type":"line","clip":true,"color":"#008000","strokeWidth":2},
"encoding":{"x":{"field":"t","type":"quantitative","scale":{"domain":[0,10],"nice":false,"zero":false}},"y":{"field":"y","type":"quantitative","scale":{"domain":[-1.125,1.125],"nice":false,"zero":false},"axis":null}}},
{"data":{"name":"lines"},"transform":[{"filter":"datum.p==='V' && datum.k==='r'"},{"flatten":["t","y"]}],"mark":{"type":"line","clip":true,"color":"#ff0000","strokeWidth":2},
"encoding":{"x":{"field":"t","type":"quantitative","scale":{"domain":[0,10],"nice":false,"zero":false}},"y":{"field":"y","type":"quantitative","scale":{"domain":[-1.125,1.125],"nice":false,"zero":false},"axis":null}}},
{"data":{"name":"lines"},"transform":[{"filter":"datum.p==='V' && datum.k==='b'"},{"flatten":["t","y"]}],"mark":{"type":"line","clip":true,"color":"#0000ff","strokeWidth":1.8},
"encoding":{"x":{"field":"t","type":"quantitative","scale":{"domain":[0,10],"nice":false,"zero":false}},"y":{"field":"y","type":"quantitative","scale":{"domain":[-1.125,1.125],"nice":false,"zero":false},"axis":{"orient":"right","values":[-1,0,1],"labels":false,"title":null}}}}
],
"resolve":{"axis":{"y":"independent"}}},
{"width":360,"height":144,"title":{"text":"Antisqueezed"},
"layer":[
{"data":{"name":"gray"},"transform":[{"filter":"datum.p==='A'"},{"flatten":["t","y"]}],"mark":{"type":"line","clip":true,"color":"#000000","strokeWidth":0.8,"opacity":0.34},
"encoding":{"x":{"field":"t","type":"quantitative","scale":{"domain":[0,10],"nice":false,"zero":false},"axis":{"values":[0,5,10],"title":"γt"}},
"y":{"field":"y","type":"quantitative","scale":{"domain":[-1.125,1.125],"nice":false,"zero":false},"axis":{"orient":"left","values":[-1,0,1],"title":"Tr[σzρ]"}},"detail":{"field":"id"}}},
{"data":{"name":"lines"},"transform":[{"filter":"datum.p==='A' && datum.k==='g'"},{"flatten":["t","y"]}],"mark":{"type":"line","clip":true,"color":"#008000","strokeWidth":2},
"encoding":{"x":{"field":"t","type":"quantitative","scale":{"domain":[0,10],"nice":false,"zero":false}},"y":{"field":"y","type":"quantitative","scale":{"domain":[-1.125,1.125],"nice":false,"zero":false},"axis":null}}},
{"data":{"name":"lines"},"transform":[{"filter":"datum.p==='A' && datum.k==='r'"},{"flatten":["t","y"]}],"mark":{"type":"line","clip":true,"color":"#ff0000","strokeWidth":2},
"encoding":{"x":{"field":"t","type":"quantitative","scale":{"domain":[0,10],"nice":false,"zero":false}},"y":{"field":"y","type":"quantitative","scale":{"domain":[-1.125,1.125],"nice":false,"zero":false},"axis":null}}},
{"data":{"name":"lines"},"transform":[{"filter":"datum.p==='A' && datum.k==='b'"},{"flatten":["t","y"]}],"mark":{"type":"line","clip":true,"color":"#0000ff","strokeWidth":1.8},
"encoding":{"x":{"field":"t","type":"quantitative","scale":{"domain":[0,10],"nice":false,"zero":false}},"y":{"field":"y","type":"quantitative","scale":{"domain":[-1.125,1.125],"nice":false,"zero":false},"axis":{"orient":"right","values":[-1,0,1],"labels":false,"title":null}}}}
],
"resolve":{"axis":{"y":"independent"}}},
{"width":360,"height":144,"title":{"text":"Thermal"},
"layer":[
{"data":{"name":"gray"},"transform":[{"filter":"datum.p==='T'"},{"flatten":["t","y"]}],"mark":{"type":"line","clip":true,"color":"#000000","strokeWidth":0.8,"opacity":0.34},
"encoding":{"x":{"field":"t","type":"quantitative","scale":{"domain":[0,10],"nice":false,"zero":false},"axis":{"values":[0,5,10],"title":"γt"}},
"y":{"field":"y","type":"quantitative","scale":{"domain":[-1.125,1.125],"nice":false,"zero":false},"axis":{"orient":"left","values":[-1,0,1],"labels":false,"title":null}},"detail":{"field":"id"}}},
{"data":{"name":"lines"},"transform":[{"filter":"datum.p==='T' && datum.k==='g'"},{"flatten":["t","y"]}],"mark":{"type":"line","clip":true,"color":"#008000","strokeWidth":2},
"encoding":{"x":{"field":"t","type":"quantitative","scale":{"domain":[0,10],"nice":false,"zero":false}},"y":{"field":"y","type":"quantitative","scale":{"domain":[-1.125,1.125],"nice":false,"zero":false},"axis":null}}},
{"data":{"name":"lines"},"transform":[{"filter":"datum.p==='T' && datum.k==='r'"},{"flatten":["t","y"]}],"mark":{"type":"line","clip":true,"color":"#ff0000","strokeWidth":2},
"encoding":{"x":{"field":"t","type":"quantitative","scale":{"domain":[0,10],"nice":false,"zero":false}},"y":{"field":"y","type":"quantitative","scale":{"domain":[-1.125,1.125],"nice":false,"zero":false},"axis":null}}},
{"data":{"name":"lines"},"transform":[{"filter":"datum.p==='T' && datum.k==='b'"},{"flatten":["t","y"]}],"mark":{"type":"line","clip":true,"color":"#0000ff","strokeWidth":1.8},
"encoding":{"x":{"field":"t","type":"quantitative","scale":{"domain":[0,10],"nice":false,"zero":false}},"y":{"field":"y","type":"quantitative","scale":{"domain":[-1.125,1.125],"nice":false,"zero":false},"axis":{"orient":"right","values":[-1,0,1],"labels":false,"title":null}}}}
],
"resolve":{"axis":{"y":"independent"}}}
],
"config":{
"view":{"stroke":"#000000","strokeWidth":1},
"axis":{"domain":false,"grid":false,"ticks":true,"tickColor":"#000000","tickSize":3.5,"tickWidth":0.9,"labelColor":"#000000","labelFont":"DejaVu Serif","labelFontSize":12,"labelPadding":5,"labelFlush":false,"titleFont":"DejaVu Serif","titleFontSize":15,"titleFontWeight":"normal","titleColor":"#000000","titlePadding":6},
"axisX":{"titleFontStyle":"italic","titlePadding":4},
"title":{"font":"DejaVu Serif","fontSize":14,"fontWeight":"normal","color":"#000000","offset":7,"anchor":"middle"}
}
}
